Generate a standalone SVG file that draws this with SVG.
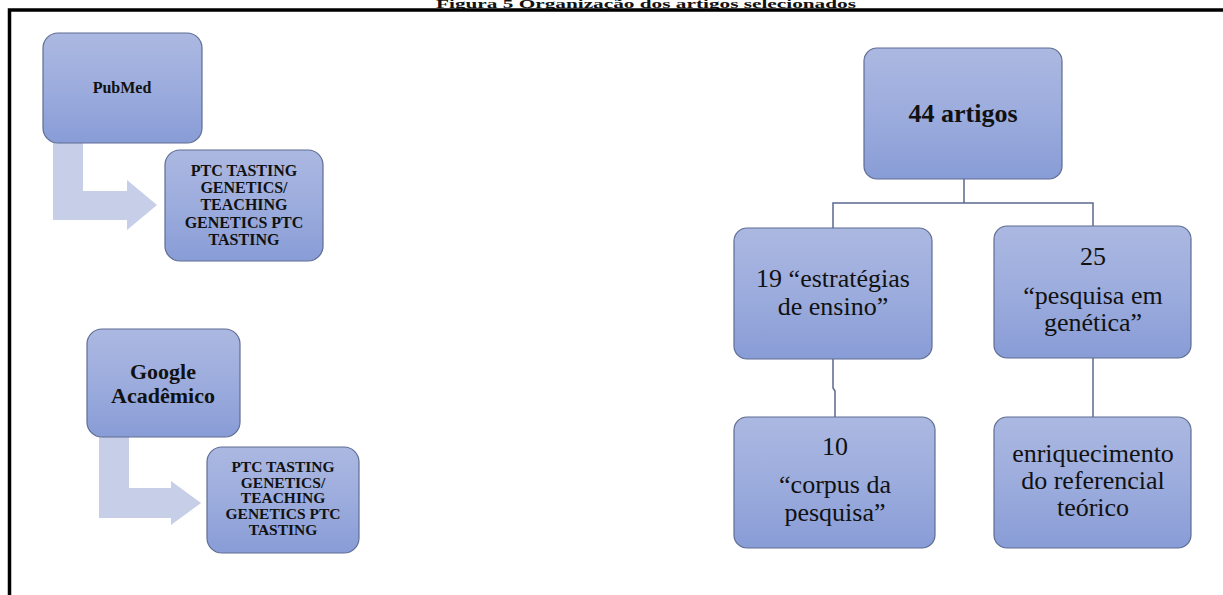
<svg xmlns="http://www.w3.org/2000/svg" width="1223" height="595" viewBox="0 0 1223 595">
<defs>
<linearGradient id="g" x1="0" y1="0" x2="0" y2="1">
<stop offset="0" stop-color="#abb8e1"/>
<stop offset="0.5" stop-color="#9cacdd"/>
<stop offset="1" stop-color="#889cd6"/>
</linearGradient>
<style>
.box{fill:url(#g);stroke:#5f6d94;stroke-width:1.2}
.arr{fill:#c7cee8}
.con{fill:none;stroke:#5b688e;stroke-width:1.5}
.tb{font-family:"Liberation Serif","Times New Roman",serif;font-weight:bold;fill:#111;text-anchor:middle}
.tr{font-family:"Liberation Serif","Times New Roman",serif;fill:#111;text-anchor:middle;font-size:26px}
</style>
</defs>
<rect width="1223" height="595" fill="#fff"/>
<text x="646" y="8" class="tb" font-size="11.5" textLength="420" lengthAdjust="spacingAndGlyphs">Figura 5 Organização dos artigos selecionados</text>
<path d="M9.5 595 V10 H1223" fill="none" stroke="#000" stroke-width="3.5"/>

<g id="arrow-pubmed"><path class="arr" d="M53 143 H83 V191 H127 V180 L157 205 L127 230 V220 H53 Z"/></g>
<g id="arrow-google"><path class="arr" d="M99 437 H129 V488 H171 V481 L201 503 L171 525 V518 H99 Z"/></g>

<g id="connectors">
<path class="con" d="M964 179 V203 M833 228 V203 H1093 V226"/>
<path class="con" d="M833 359 V388 L835 391 V417"/>
<path class="con" d="M1093 358 V417"/>
</g>

<g id="pubmed">
<rect class="box" x="43" y="33" width="159" height="110" rx="15"/>
<text class="tb" x="122" y="93" font-size="16">PubMed</text>
</g>
<g id="ptc1">
<rect class="box" x="165" y="150" width="158" height="111" rx="15"/>
<text class="tb" x="244" font-size="16"><tspan x="244" y="176">PTC TASTING</tspan><tspan x="244" y="193">GENETICS/</tspan><tspan x="244" y="210">TEACHING</tspan><tspan x="244" y="228">GENETICS PTC</tspan><tspan x="244" y="245">TASTING</tspan></text>
</g>
<g id="google">
<rect class="box" x="87" y="329" width="153" height="108" rx="15"/>
<text class="tb" font-size="22"><tspan x="163" y="379">Google</tspan><tspan x="163" y="403">Acadêmico</tspan></text>
</g>
<g id="ptc2">
<rect class="box" x="207" y="447" width="152" height="106" rx="15"/>
<text class="tb" font-size="15.5"><tspan x="283" y="472">PTC TASTING</tspan><tspan x="283" y="488">GENETICS/</tspan><tspan x="283" y="503">TEACHING</tspan><tspan x="283" y="519">GENETICS PTC</tspan><tspan x="283" y="535">TASTING</tspan></text>
</g>

<g id="n44">
<rect class="box" x="864" y="48" width="198" height="131" rx="13"/>
<text class="tb" x="963" y="122" font-size="26">44 artigos</text>
</g>
<g id="n19">
<rect class="box" x="734" y="228" width="198" height="131" rx="13"/>
<text class="tr"><tspan x="833" y="287">19 “estratégias</tspan><tspan x="833" y="315">de ensino”</tspan></text>
</g>
<g id="n25">
<rect class="box" x="994" y="226" width="197" height="132" rx="13"/>
<text class="tr"><tspan x="1093" y="265">25</tspan><tspan x="1093" y="304">“pesquisa em</tspan><tspan x="1093" y="331">genética”</tspan></text>
</g>
<g id="n10">
<rect class="box" x="734" y="417" width="201" height="131" rx="13"/>
<text class="tr"><tspan x="835" y="455">10</tspan><tspan x="835" y="493">“corpus da</tspan><tspan x="835" y="521">pesquisa”</tspan></text>
</g>
<g id="nenr">
<rect class="box" x="994" y="417" width="197" height="131" rx="13"/>
<text class="tr"><tspan x="1093" y="462">enriquecimento</tspan><tspan x="1093" y="489">do referencial</tspan><tspan x="1093" y="516">teórico</tspan></text>
</g>
</svg>
